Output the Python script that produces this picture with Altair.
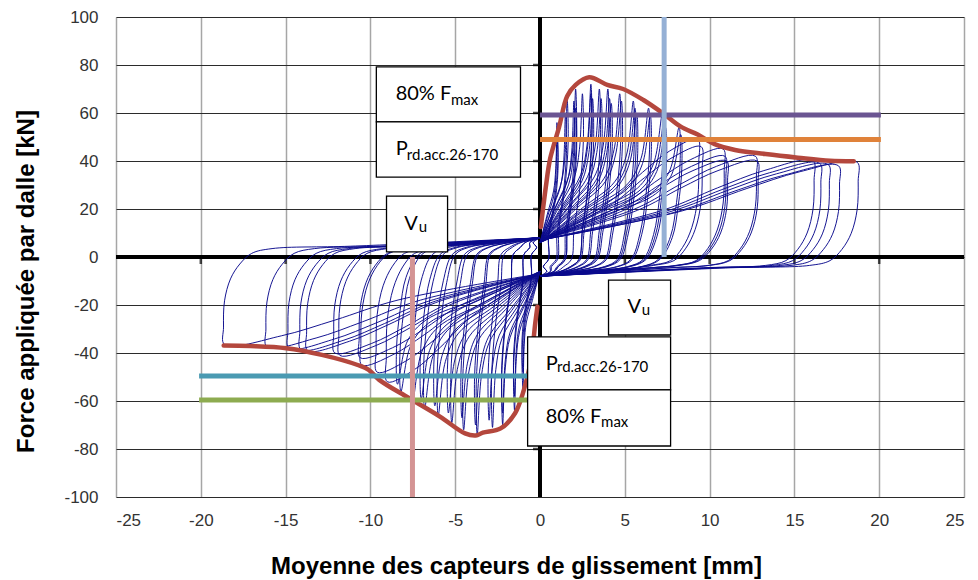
import altair as alt
import pandas as pd

# ---------------- axis ticks ----------------
x_ticks = [-25, -20, -15, -10, -5, 0, 5, 10, 15, 20, 25]
y_ticks = [-100, -80, -60, -40, -20, 0, 20, 40, 60, 80, 100]

# ---------------- envelope curves ----------------
env_pos_x = [0.05, 0.34, 0.6, 1.12, 1.6, 2.1, 2.9, 3.97, 4.9, 6.1, 7.3, 8.3, 9.3, 10.3, 11.5, 13.3, 15.2, 17.1, 18.5]
env_pos_f = [12.5, 29.0, 41.0, 54.0, 67.0, 71.7, 74.9, 71.7, 70.0, 65.4, 59.6, 54.3, 51.0, 47.0, 44.6, 42.9, 41.4, 40.1, 39.9]
env_neg_x = [-0.15, -0.28, -0.53, -0.95, -1.47, -2.32, -3.37, -3.79, -4.42, -5.9, -7.7, -9.48, -10.1, -10.75, -12.86, -14.96, -17.07, -18.65]
env_neg_f = [-20.7, -27.6, -42.9, -55.4, -65.1, -71.4, -73.2, -74.4, -73.5, -66.5, -58.9, -51.2, -47.0, -45.0, -40.8, -38.0, -37.1, -36.9]

# ---------------- cycle peaks ----------------
pos_peak_x = [1.0, 1.0, 1.6, 1.5, 2.1, 2.0, 2.1, 2.5, 3.0, 3.0, 3.1, 3.5, 3.6, 4.0, 4.1, 4.2, 4.7, 4.8,
              5.5, 5.6, 5.7, 6.4, 6.5, 7.2, 7.3, 7.4, 8.2, 8.3, 9.3, 9.5, 10.8, 10.9, 11.0, 12.7, 12.8,
              16.1, 16.5, 17.0, 17.6, 18.7]
pos_peak_f = [56, 50, 66, 60, 70, 65, 62, 68, 72, 68, 66, 70, 66, 70, 66, 64, 68, 65,
              65, 62, 60, 62, 59, 59, 56, 54, 54, 51, 49, 46, 45, 42, 40, 42, 40,
              40, 39, 38.5, 38, 39.5]
neg_peak_x = [-1.0, -1.0, -1.5, -1.5, -2.2, -2.2, -2.8, -3.0, -3.7, -3.8, -4.5, -4.6, -5.2, -5.4,
              -6.0, -6.2, -6.8, -7.0, -7.5, -8.2, -8.4, -9.0, -9.6, -10.5, -10.6, -11.8, -12.1,
              -13.7, -14.1, -14.8, -16.1, -18.6]
neg_peak_f = [-55, -48, -64, -58, -70, -65, -71, -68, -74, -70, -72, -67, -69, -65,
              -66, -62, -63, -59, -60, -56, -53, -52, -48, -45, -42, -41, -40,
              -39, -38.5, -38, -37.5, -36.5]

# loop outline, as (fraction of peak slip, slip offset,
# fraction of peak force, force offset)
spike_shape = [(0.0, 0.0, 0.0, 6.0), (0.45, 0.0, 0.22, 6.0), (0.8, 0.0, 0.42, 4.0),
               (0.93, 0.0, 0.66, 0.0), (1.0, 0.0, 1.0, 0.0), (1.0, 0.06, 0.72, 0.0),
               (1.0, -0.15, 0.42, 0.0), (1.0, -0.5, 0.16, 0.0), (0.9, -0.4, 0.0, -1.0),
               (0.8, -0.6, 0.0, -4.0), (0.4, 0.0, 0.0, -6.0), (0.0, 0.0, 0.0, -8.0)]
round_shape = [(0.0, 0.0, 0.0, 7.0), (0.45, 0.0, 0.45, 1.5), (0.65, 0.0, 0.72, 0.0),
               (0.82, 0.0, 0.9, 0.0), (1.0, 0.0, 1.0, 0.0), (1.0, 0.06, 0.8, 0.0),
               (1.0, 0.0, 0.5, 0.0), (1.0, -0.35, 0.25, 0.0), (1.0, -0.9, 0.08, 0.0),
               (1.0, -1.6, 0.0, -1.5), (1.0, -2.8, 0.0, -3.5), (0.6, 0.0, 0.0, -4.5),
               (0.0, 0.0, 0.0, -8.0)]

# ---------------- reference lines ----------------
h_lines = pd.DataFrame({
    "y": [59.2, 49.0, -49.6, -59.6],
    "x": [0.0, 0.0, -20.1, -20.1],
    "x2": [20.1, 20.1, 0.0, 0.0],
    "color": ["#6b5592", "#e0823a", "#4a9ab2", "#8dab50"],
})
v_lines = pd.DataFrame({
    "x": [7.32, -7.52],
    "y": [0.0, -100.0],
    "y2": [100.0, 0.0],
    "color": ["#95b0d5", "#d49494"],
})
zero_x = [0]
zero_y = [0]

# ---------------- annotation boxes ----------------
boxes = pd.DataFrame({
    "x": [-9.65, -9.65, -9.05, 4.04, -0.73, -0.73],
    "x2": [-1.15, -1.15, -5.45, 7.7, 7.7, 7.7],
    "y": [56.3, 33.3, 2.1, -32.5, -55.4, -78.75],
    "y2": [79.2, 56.3, 25.4, -9.6, -33.3, -55.4],
})
labels = pd.DataFrame({
    "text": ["80% F", "max", "P", "rd.acc.26-170", "V", "u",
             "V", "u", "P", "rd.acc.26-170", "80% F", "max"],
    "x": [-8.51, -5.25, -8.51, -7.85, -8.0, -7.15,
          5.16, 6.0, 0.34, 1.0, 0.34, 3.6],
    "y": [65.4, 63.3, 42.5, 40.4, 11.25, 10.4,
          -23.3, -24.2, -47.1, -47.9, -69.2, -70.8],
    "size": [20, 15, 20, 15, 20, 15, 20, 15, 20, 15, 20, 15],
})

# ---------------- build loop table ----------------
rows = []
peaks = list(zip(pos_peak_x, pos_peak_f)) + list(zip(neg_peak_x, neg_peak_f))
for i, (d, p) in enumerate(peaks):
    s = 1 if d > 0 else -1
    shape = round_shape if abs(d) >= 9 else spike_shape
    for k, (fx, ax, fy, ay) in enumerate(shape):
        rows.append({"loop": i, "k": k, "x": fx * d + s * ax, "y": fy * p + s * ay})
loops = pd.DataFrame(rows)

env = pd.DataFrame({
    "x": env_pos_x + env_neg_x,
    "y": env_pos_f + env_neg_f,
    "side": ["p"] * len(env_pos_x) + ["n"] * len(env_neg_x),
    "k": list(range(len(env_pos_x))) + list(range(len(env_neg_x))),
})

xs = alt.Scale(domain=[-25, 25], nice=False, zero=False)
ys = alt.Scale(domain=[-100, 100], nice=False, zero=False)

x_axis = alt.Axis(values=x_ticks, title="Moyenne des capteurs de glissement [mm]",
                  grid=True, gridColor="#a6a6a6", gridWidth=1.5, domain=False, ticks=False,
                  labelFont="Liberation Sans", labelFontSize=17, labelColor="#333333",
                  labelPadding=15, labelExpr="'' + datum.value",
                  titleFont="Liberation Sans", titleFontSize=24, titleFontWeight="bold",
                  titleColor="black", titleX=400, titleY=76, titleAlign="center",
                  titleBaseline="alphabetic")
y_axis = alt.Axis(values=y_ticks, title="Force appliquée par dalle [kN]",
                  grid=True, gridColor="#2b2b2b", gridWidth=1.2, domain=False, ticks=False,
                  labelFont="Liberation Sans", labelFontSize=17, labelColor="#333333",
                  labelPadding=18, labelExpr="'' + datum.value",
                  titleFont="Liberation Sans", titleFontSize=24, titleFontWeight="bold",
                  titleColor="black", titleX=-83, titleY=264, titleAngle=270,
                  titleAlign="center", titleBaseline="alphabetic")


def X(f="x"):
    return alt.X(f, type="quantitative", scale=xs, axis=x_axis)


def Y(f="y"):
    return alt.Y(f, type="quantitative", scale=ys, axis=y_axis)


zl_v = alt.Chart(pd.DataFrame({"x": zero_x})).mark_rule(color="black", strokeWidth=4).encode(
    x=X(), y=alt.datum(-100), y2=alt.datum(100))
zl_h = alt.Chart(pd.DataFrame({"y": zero_y})).mark_rule(color="black", strokeWidth=4).encode(
    y=Y(), x=alt.datum(-25), x2=alt.datum(25))

# small tick marks on the zero axes
yt = alt.Chart(pd.DataFrame({"y": y_ticks[1:-1]})).mark_tick(
    orient="horizontal", size=8, thickness=2.5, color="black", xOffset=-3).encode(
    y=Y(), x=alt.datum(0))
xt = alt.Chart(pd.DataFrame({"x": x_ticks[1:-1]})).mark_tick(
    orient="vertical", size=8, thickness=2.5, color="black", yOffset=3).encode(
    x=X(), y=alt.datum(0))

loop_layer = alt.Chart(loops).mark_line(color="#0a0a8c", strokeWidth=1,
                                        interpolate="catmull-rom", opacity=0.95).encode(
    x=X(), y=Y(), detail="loop:N", order="k:Q")

env_layer = alt.Chart(env).mark_line(color="#b4473d", strokeWidth=4.5,
                                     interpolate="catmull-rom", strokeCap="round",
                                     strokeJoin="round").encode(
    x=X(), y=Y(), detail="side:N", order="k:Q")

h_layer = alt.Chart(h_lines).mark_rule(strokeWidth=5, strokeCap="butt").encode(
    x=X(), x2="x2:Q", y=Y(), color=alt.Color("color:N", scale=None))
v_layer = alt.Chart(v_lines).mark_rule(strokeWidth=5, strokeCap="butt").encode(
    x=X(), y=Y(), y2="y2:Q", color=alt.Color("color:N", scale=None))

box_layer = alt.Chart(boxes).mark_rect(fill="white", stroke="black", strokeWidth=1.3).encode(
    x=X(), x2="x2:Q", y=Y(), y2="y2:Q")

text_layer = alt.Chart(labels).mark_text(align="left", baseline="alphabetic", font="Lato",
                                         color="black").encode(
    x=X(), y=Y(), text="text:N", size=alt.Size("size:Q", scale=None))

chart = alt.layer(zl_v, zl_h, yt, xt, loop_layer, env_layer, h_layer, v_layer, box_layer,
                  text_layer).properties(
    width=848, height=480,
    autosize=alt.AutoSizeParams(type="none"),
    padding={"left": 108, "top": 9, "right": 6, "bottom": 83},
).configure_view(stroke="black", strokeWidth=3).configure(background="white")

chart.save("out.html", embed_options={"renderer": "svg", "actions": False})
